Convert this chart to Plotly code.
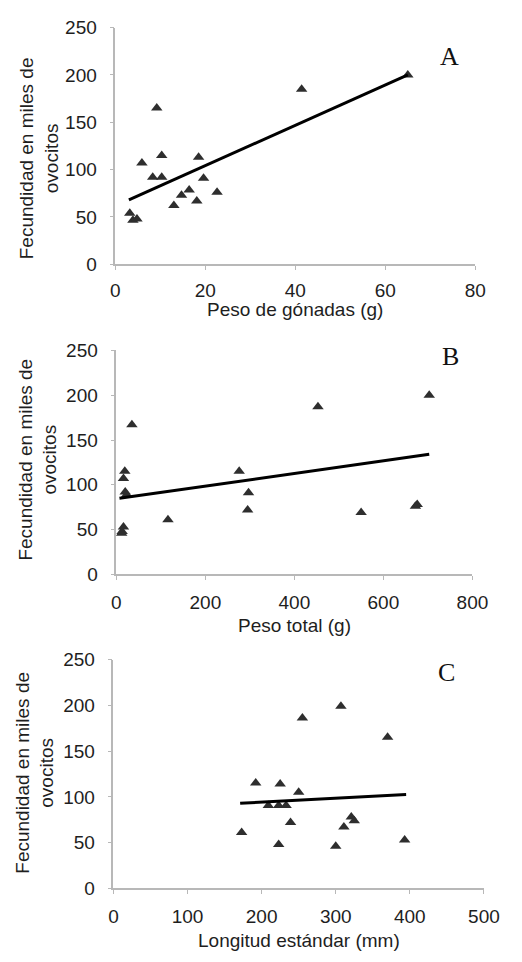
import plotly.graph_objects as go

# ---- Data ----
gonad_w = [3.2, 3.9, 4.8, 5.9, 8.3, 9.2, 10.3, 10.3, 13.0, 14.7, 16.4, 18.1, 18.5, 19.6, 22.6, 41.4, 65.0]
fec_A = [54, 46.5, 48, 107, 92, 165, 115, 92, 62, 73, 78.5, 67, 113, 91, 76, 185, 200]

total_w = [12, 13, 16, 16, 19, 20, 23, 35, 116, 276, 297, 295, 453, 550, 676, 672, 703]
fec_B = [46, 48, 53, 107, 115, 92, 89, 167, 61, 115, 91, 72, 187, 69, 78, 76, 200]

std_len = [173, 192, 209, 223, 225, 223, 233, 239, 250, 255, 300, 307, 311, 321, 325, 370, 393]
fec_C = [61, 115, 90.5, 48, 114, 90.5, 90.5, 72, 105, 186, 46, 199, 67, 78, 74, 165, 53]

# trend lines (end points)
trend_A_x = [3, 65]
trend_A_y = [68, 200]
trend_B_x = [7, 703]
trend_B_y = [85, 134]
trend_C_x = [171, 395]
trend_C_y = [93, 102.6]

panel_letters = ["A", "B", "C"]
x_titles = ["Peso de gónadas (g)", "Peso total (g)", "Longitud estándar (mm)"]
y_title = "Fecundidad en miles de<br>ovocitos"
x_ranges = [[0, 80], [0, 800], [0, 500]]
x_dticks = [20, 200, 100]

W, H = 522, 962
FONT = "Liberation Sans, Arial, sans-serif"
TXT = "#1e1e1e"
AX = "#b8b8b8"

# pixel layout
x_dom_px = [(115, 490), (116, 487), (113, 499)]
y_dom_px = [(18, 260), (348, 577), (664, 898)]
ytitle_pos = [(35, 152), (34, 460), (31, 780)]
xtitle_shift = [-45, -51, -52]
letter_pos = [(463, 48), (464, 354), (460, 677)]

datasets = [(gonad_w, fec_A, trend_A_x, trend_A_y),
            (total_w, fec_B, trend_B_x, trend_B_y),
            (std_len, fec_C, trend_C_x, trend_C_y)]

fig = go.Figure()
annotations = []
for i, (xs, ys, tx_, ty_) in enumerate(datasets):
    n = "" if i == 0 else str(i + 1)
    xa, ya = "x" + n, "y" + n
    fig.add_trace(go.Scatter(
        x=xs, y=ys, mode="markers", xaxis=xa, yaxis=ya,
        marker=dict(symbol="triangle-up", size=10, color="#2e2e2e", line=dict(width=0)),
        cliponaxis=False, showlegend=False))
    fig.add_trace(go.Scatter(
        x=tx_, y=ty_, mode="lines", xaxis=xa, yaxis=ya,
        line=dict(color="black", width=3), showlegend=False, cliponaxis=False))

    x0, x1 = x_dom_px[i]
    yt, yb = y_dom_px[i]
    axis_common = dict(showline=True, linecolor=AX, linewidth=1.5, ticks="outside",
                       tickcolor=AX, ticklen=4, tickwidth=1, showgrid=False, zeroline=False,
                       tickfont=dict(family=FONT, size=19, color=TXT))
    fig.update_layout(**{
        "xaxis" + n: dict(domain=[x0 / W, x1 / W], range=x_ranges[i], dtick=x_dticks[i],
                          anchor=ya, ticklabelstandoff=4 if i == 0 else 6, **axis_common),
        "yaxis" + n: dict(domain=[1 - yb / H, 1 - yt / H], range=[0, 250], dtick=50,
                          anchor=xa, ticklabelstandoff=9, **axis_common),
    })
    annotations.append(dict(text=x_titles[i], xref=xa + " domain", yref=ya + " domain",
                            x=0.5, y=0, yshift=xtitle_shift[i], yanchor="middle",
                            showarrow=False, font=dict(family=FONT, size=19, color=TXT)))
    px_, py_ = ytitle_pos[i]
    annotations.append(dict(text=y_title, xref="paper", yref="paper", x=px_ / W, y=1 - py_ / H,
                            xanchor="center", yanchor="middle", textangle=-90, showarrow=False,
                            font=dict(family=FONT, size=19, color=TXT)))
    lx, ly = letter_pos[i]
    annotations.append(dict(text=panel_letters[i], xref="paper", yref="paper", x=lx / W,
                            y=1 - ly / H, xanchor="center", yanchor="middle", showarrow=False,
                            font=dict(family="Liberation Serif, Times New Roman, serif",
                                      size=26, color="#111")))

fig.update_layout(width=W, height=H, autosize=False, margin=dict(l=0, r=0, t=0, b=0),
                  paper_bgcolor="white", plot_bgcolor="white", annotations=annotations)

fig.write_html("out.html", config={"displayModeBar": False},
               post_script="document.body.style.margin='0';document.body.style.overflow='hidden';")
